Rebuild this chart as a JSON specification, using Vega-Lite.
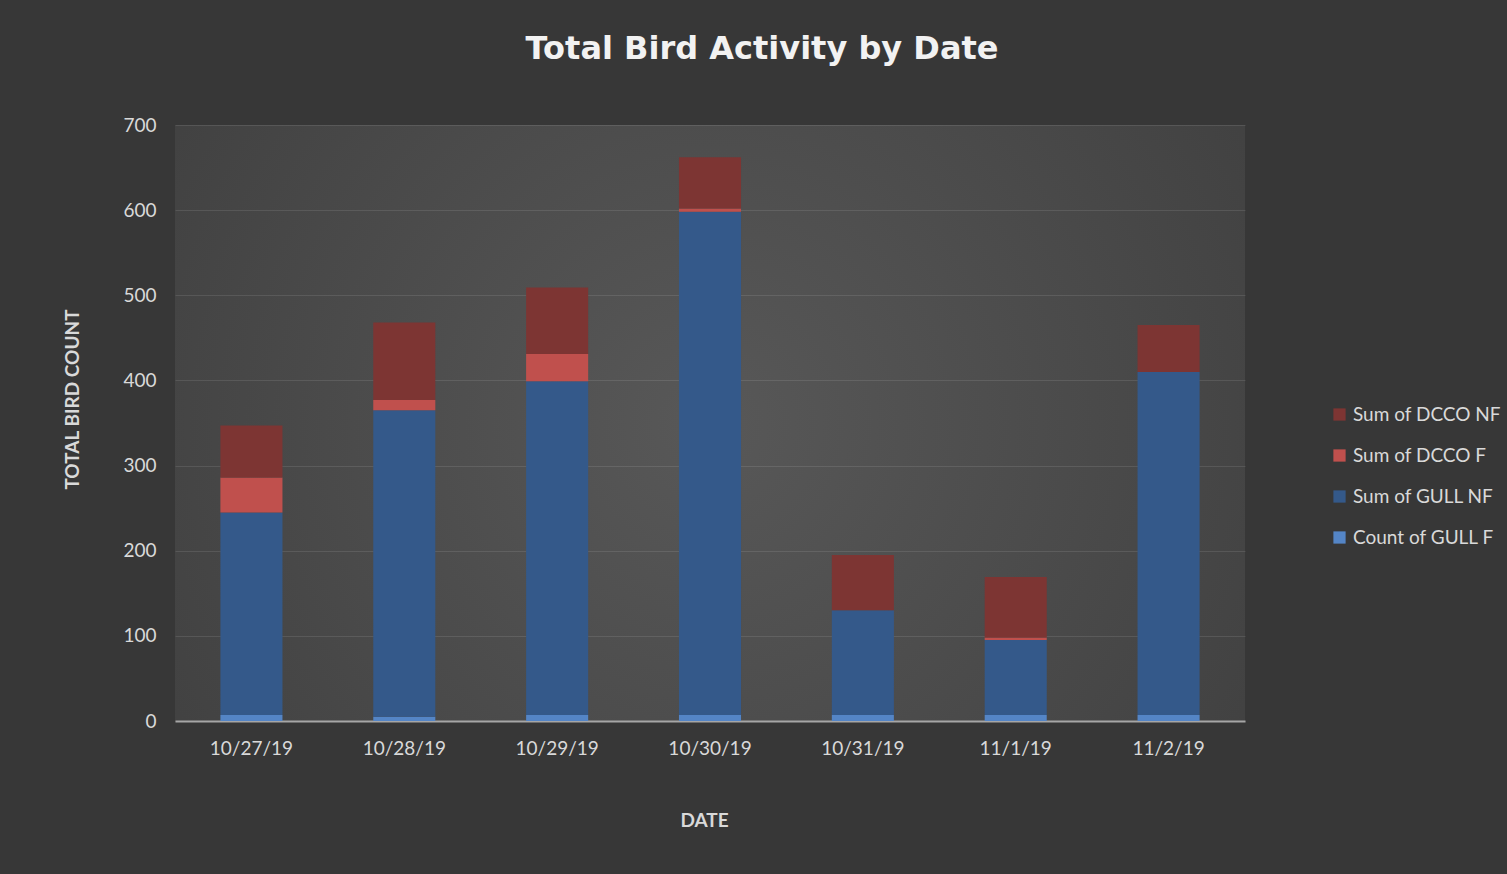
{
  "$schema": "https://vega.github.io/schema/vega-lite/v6.json",
  "width": 1070,
  "height": 596,
  "autosize": {"type": "none"},
  "padding": {"left": 175, "top": 125, "right": 262, "bottom": 153},
  "background": "#373737",
  "title": {
    "text": "Total Bird Activity by Date",
    "font": "DejaVu Sans",
    "fontSize": 32,
    "fontWeight": "bold",
    "color": "#f2f2f2",
    "anchor": "middle",
    "dx": 52,
    "offset": 25,
    "baseline": "alphabetic"
  },
  "data": {
    "values": [
      {"date": "10/27/19", "series": "Count of GULL F", "order": 1, "value": 7},
      {"date": "10/27/19", "series": "Sum of GULL NF", "order": 2, "value": 238},
      {"date": "10/27/19", "series": "Sum of DCCO F", "order": 3, "value": 41},
      {"date": "10/27/19", "series": "Sum of DCCO NF", "order": 4, "value": 61},
      {"date": "10/28/19", "series": "Count of GULL F", "order": 1, "value": 5},
      {"date": "10/28/19", "series": "Sum of GULL NF", "order": 2, "value": 360},
      {"date": "10/28/19", "series": "Sum of DCCO F", "order": 3, "value": 12},
      {"date": "10/28/19", "series": "Sum of DCCO NF", "order": 4, "value": 91},
      {"date": "10/29/19", "series": "Count of GULL F", "order": 1, "value": 7},
      {"date": "10/29/19", "series": "Sum of GULL NF", "order": 2, "value": 392},
      {"date": "10/29/19", "series": "Sum of DCCO F", "order": 3, "value": 32},
      {"date": "10/29/19", "series": "Sum of DCCO NF", "order": 4, "value": 78},
      {"date": "10/30/19", "series": "Count of GULL F", "order": 1, "value": 7},
      {"date": "10/30/19", "series": "Sum of GULL NF", "order": 2, "value": 591},
      {"date": "10/30/19", "series": "Sum of DCCO F", "order": 3, "value": 4},
      {"date": "10/30/19", "series": "Sum of DCCO NF", "order": 4, "value": 60},
      {"date": "10/31/19", "series": "Count of GULL F", "order": 1, "value": 7},
      {"date": "10/31/19", "series": "Sum of GULL NF", "order": 2, "value": 123},
      {"date": "10/31/19", "series": "Sum of DCCO F", "order": 3, "value": 0},
      {"date": "10/31/19", "series": "Sum of DCCO NF", "order": 4, "value": 65},
      {"date": "11/1/19", "series": "Count of GULL F", "order": 1, "value": 7},
      {"date": "11/1/19", "series": "Sum of GULL NF", "order": 2, "value": 88},
      {"date": "11/1/19", "series": "Sum of DCCO F", "order": 3, "value": 3},
      {"date": "11/1/19", "series": "Sum of DCCO NF", "order": 4, "value": 71},
      {"date": "11/2/19", "series": "Count of GULL F", "order": 1, "value": 7},
      {"date": "11/2/19", "series": "Sum of GULL NF", "order": 2, "value": 403},
      {"date": "11/2/19", "series": "Sum of DCCO F", "order": 3, "value": 0},
      {"date": "11/2/19", "series": "Sum of DCCO NF", "order": 4, "value": 55}
    ]
  },
  "mark": {"type": "bar"},
  "encoding": {
    "x": {
      "field": "date",
      "type": "ordinal",
      "sort": ["10/27/19", "10/28/19", "10/29/19", "10/30/19", "10/31/19", "11/1/19", "11/2/19"],
      "scale": {"paddingInner": 0.594, "paddingOuter": 0.297},
      "title": "DATE",
      "axis": {
        "labelAngle": 0,
        "labelFont": "Lato",
        "labelFontSize": 19,
        "labelColor": "#d9d9d9",
        "labelPadding": 18,
        "ticks": false,
        "domainColor": "#a6a6a6",
        "domainWidth": 2,
        "titleFont": "Lato",
        "titleFontSize": 19,
        "titleFontWeight": "bold",
        "titleColor": "#d9d9d9",
        "titlePadding": 53,
        "titleX": 529
      }
    },
    "y": {
      "field": "value",
      "type": "quantitative",
      "stack": "zero",
      "scale": {"domain": [0, 700]},
      "title": "TOTAL BIRD COUNT",
      "axis": {
        "values": [0, 100, 200, 300, 400, 500, 600, 700],
        "labelFont": "Lato",
        "labelFontSize": 19,
        "labelColor": "#d9d9d9",
        "labelPadding": 19,
        "ticks": false,
        "domain": false,
        "grid": true,
        "gridColor": "#ffffff",
        "gridOpacity": 0.1,
        "gridWidth": 1,
        "titleFont": "Lato",
        "titleFontSize": 19,
        "titleFontWeight": "bold",
        "titleColor": "#d9d9d9",
        "titlePadding": 40,
        "titleY": 274
      }
    },
    "color": {
      "field": "series",
      "type": "nominal",
      "scale": {
        "domain": ["Sum of DCCO NF", "Sum of DCCO F", "Sum of GULL NF", "Count of GULL F"],
        "range": ["#7d3533", "#c0504d", "#34598a", "#5485c6"]
      },
      "legend": {
        "title": null,
        "orient": "none",
        "legendX": 1155,
        "legendY": 280,
        "symbolType": "square",
        "symbolSize": 150,
        "symbolStrokeWidth": 0,
        "labelFont": "Lato",
        "labelFontSize": 19,
        "labelColor": "#d9d9d9",
        "labelOffset": 4,
        "rowPadding": 21
      }
    },
    "order": {"field": "order", "type": "quantitative"}
  },
  "config": {
    "view": {
      "stroke": null,
      "fill": {"expr": "{gradient: 'radial', x1: 0.5, y1: 0.5, r1: 0, x2: 0.5, y2: 0.5, r2: 0.72, stops: [{offset: 0, color: '#585858'}, {offset: 1, color: '#3c3c3c'}]}"}
    }
  }
}
